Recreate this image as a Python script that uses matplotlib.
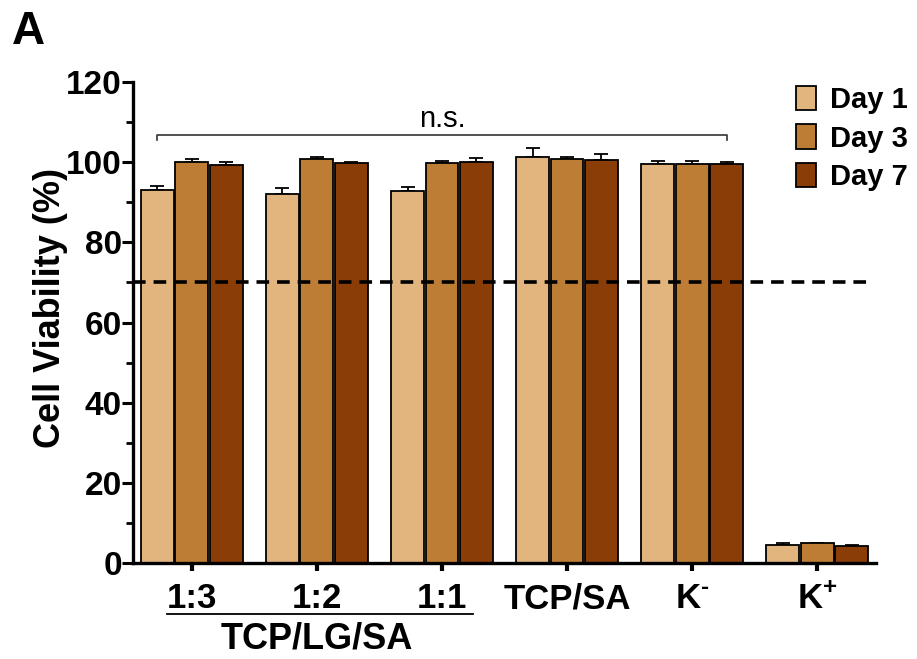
import numpy as np
import matplotlib
matplotlib.use("Agg")
import matplotlib.pyplot as plt
from matplotlib.ticker import MultipleLocator

plt.rcParams['font.family'] = ['Liberation Sans', 'DejaVu Sans']
plt.rcParams['mathtext.fontset'] = 'custom'
plt.rcParams['mathtext.bf'] = 'Liberation Sans:bold'
plt.rcParams['mathtext.rm'] = 'Liberation Sans:bold'

# data
groups = ['1:3', '1:2', '1:1', 'TCP/SA', r'$\mathbf{K^{\text{-}}}$', r'$\mathbf{K^{+}}$']
days = ['Day 1', 'Day 3', 'Day 7']
day1 = [93.1, 92.1, 92.8, 101.2, 99.5, 4.5]
day3 = [100.1, 100.7, 99.8, 100.9, 99.5, 4.9]
day7 = [99.3, 99.8, 100.1, 100.5, 99.5, 4.2]
err1 = [0.9, 1.4, 1.1, 2.3, 0.8, 0.4]
err3 = [0.7, 0.7, 0.6, 0.5, 0.8, 0.2]
err7 = [0.7, 0.3, 0.9, 1.5, 0.5, 0.3]
colors = ['#E2B57F', '#BD7D34', '#8A3D07']
threshold = 70

fig = plt.figure(figsize=(9.17, 6.59), dpi=100)
ax = fig.add_axes([133/917, 1 - 563/659, (876-133)/917, (563-82)/659])

x = np.arange(len(groups))
pitch = 0.275
width = 0.262
vals = [day1, day3, day7]
errs = [err1, err3, err7]
for i in range(3):
    xi = x + (i - 1) * pitch
    ax.bar(xi, vals[i], width, color=colors[i], edgecolor='black', linewidth=1.3,
           label=days[i], zorder=2)
    ax.errorbar(xi, vals[i], yerr=[np.zeros(len(x)), errs[i]], fmt='none',
                ecolor='black', elinewidth=1.3, capsize=5, capthick=1.3, zorder=1)

# threshold line
ax.axhline(threshold, xmin=0, xmax=0.99, color='black', linestyle=(0, (3.5, 2.2)),
           linewidth=2.6, zorder=3)

# n.s. bracket
bx0 = x[0] - pitch
bx1 = x[4] + pitch
ax.plot([bx0, bx0, bx1, bx1], [105.5, 106.8, 106.8, 105.5], color='#333333',
        linewidth=1.2, clip_on=False)
ax.text((bx0 + bx1) / 2, 107.3, 'n.s.', ha='center', va='bottom', fontsize=21)

ax.set_xlim(-0.47, 5.47)
ax.set_ylim(0, 120)
ax.yaxis.set_major_locator(MultipleLocator(20))
ax.yaxis.set_minor_locator(MultipleLocator(10))
ax.set_xticks(x)
ax.set_xticklabels(groups, fontsize=25, fontweight='bold')
ax.tick_params(axis='y', labelsize=24, width=2.2, length=8, pad=0)
ax.tick_params(axis='y', which='minor', width=2, length=5)
ax.tick_params(axis='x', width=3, length=6, pad=8)
for lab in ax.get_yticklabels():
    lab.set_fontweight('bold')
ax.spines['top'].set_visible(False)
ax.spines['right'].set_visible(False)
ax.spines['left'].set_linewidth(2.4)
ax.spines['bottom'].set_linewidth(2.4)
ax.set_ylabel('Cell Viability (%)', fontsize=26, fontweight='bold')
ax.yaxis.set_label_coords(-0.088, 0.53)

# group label under the first three
ax.plot([x[0] - 0.2, x[2] + 0.25], [-12.8, -12.8], color='black', linewidth=1.3,
        clip_on=False)
ax.text(x[1], -14.5, 'TCP/LG/SA', ha='center', va='top', fontsize=26, fontweight='bold')

leg = ax.legend(loc='upper left', bbox_to_anchor=(796/917, 1 - 86/659),
                bbox_transform=fig.transFigure, frameon=False, fontsize=21,
                handlelength=0.7, handleheight=0.9, handletextpad=0.45,
                labelspacing=0.35, borderaxespad=0, borderpad=0)
for t in leg.get_texts():
    t.set_fontweight('bold')

fig.text(12/917, 1 - 44/659, 'A', fontsize=33, fontweight='bold')

fig.savefig('out.png', dpi=100)
